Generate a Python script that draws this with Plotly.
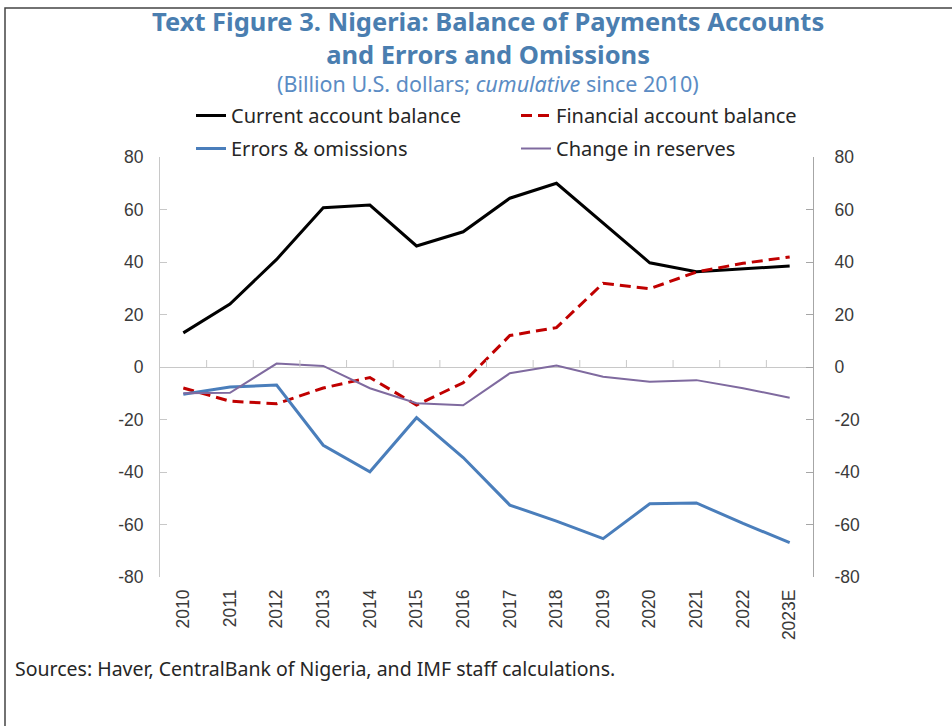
import plotly.graph_objects as go

# Cumulative balance of payments components since 2010 (billion U.S. dollars)
years = ["2010", "2011", "2012", "2013", "2014", "2015", "2016",
         "2017", "2018", "2019", "2020", "2021", "2022", "2023E"]
current_account = [13, 24, 41, 60.7, 61.7, 46.1, 51.5, 64.3, 70, 55, 39.7, 36.3, 37.5, 38.5]
financial_account = [-8, -13, -14, -8, -4, -14.5, -6, 12, 15, 31.9, 29.8, 36.2, 39.5, 41.9]
errors_omissions = [-10.4, -7.6, -6.9, -29.8, -39.9, -19.3, -34.5, -52.6, -58.7, -65.4, -52.1, -51.8, -59.6, -66.9]
change_in_reserves = [-10, -9.8, 1.3, 0.4, -8.1, -13.8, -14.6, -2.4, 0.6, -3.7, -5.6, -5, -8.1, -11.7]

y_ticks = [-80, -60, -40, -20, 0, 20, 40, 60, 80]

W, H = 952, 726
ML, MR, MT, MB = 160, 139, 157, 149
PW, PH = W - ML - MR, H - MT - MB


def px_x(p):
    return (p - ML) / PW


def px_y(p):
    return (H - MB - p) / PH


TEXT = "#262626"
TICK_FONT = dict(family="Liberation Sans, Arial, sans-serif", size=17.5, color="#3a3a3a")
LEG_FONT = dict(family="Noto Sans, sans-serif", size=20, color=TEXT)

fig = go.Figure()

# (name, values, line style, legend column, y axis)
series = [
    ("Current account balance", current_account, dict(color="#000000", width=3), "legend", "y"),
    ("Financial account balance", financial_account, dict(color="#C00000", width=3, dash="11px,6px"), "legend2", "y"),
    ("Errors & omissions", errors_omissions, dict(color="#4A7EBB", width=3), "legend", "y"),
    ("Change in reserves", change_in_reserves, dict(color="#7F6A9F", width=2), "legend2", "y2"),
]
for k, (name, vals, line, leg, yax) in enumerate(series):
    fig.add_trace(go.Scatter(
        x=years, y=vals, name=name, mode="lines", line=line, yaxis=yax,
        legend=leg, legendgroup=f"g{k}", hoverinfo="x+y+name",
    ))

# Small tick marks on the zero line, between categories
for i in range(len(years) - 1):
    fig.add_shape(
        type="line", xref="x", yref="y", x0=i + 0.5, x1=i + 0.5,
        ysizemode="pixel", yanchor=0, y0=0, y1=7,
        line=dict(color="#c8c8c8", width=1),
    )

# Outer frame
fig.add_shape(
    type="rect", xref="paper", yref="paper",
    x0=px_x(5), x1=px_x(970), y0=px_y(745), y1=px_y(8),
    line=dict(color="#444444", width=1.5), fillcolor="rgba(0,0,0,0)", layer="below",
)

title_font = dict(family="Noto Sans, sans-serif", size=25.5, color="#4A7EB0")
fig.add_annotation(
    text="<b>Text Figure 3. Nigeria: Balance of Payments Accounts</b><br>"
         "<b>and Errors and Omissions</b>",
    xref="paper", yref="paper", x=px_x(488), y=px_y(38),
    xanchor="center", yanchor="middle", align="center", showarrow=False, font=title_font,
)
fig.add_annotation(text="(Billion U.S. dollars; <i>cumulative</i> since 2010)",
                   xref="paper", yref="paper", x=px_x(488), y=px_y(84),
                   xanchor="center", yanchor="middle", showarrow=False,
                   font=dict(family="Noto Sans, sans-serif", size=21.5, color="#5B8CC4"))
fig.add_annotation(text="Sources: Haver, CentralBank of Nigeria, and IMF staff calculations.",
                   xref="paper", yref="paper", x=px_x(13), y=px_y(668),
                   xanchor="left", yanchor="middle", showarrow=False,
                   font=dict(family="Noto Sans, sans-serif", size=19.5, color=TEXT))

legend_common = dict(
    xref="container", yref="container", xanchor="left", yanchor="top",
    orientation="v", font=LEG_FONT, bgcolor="rgba(0,0,0,0)",
    tracegroupgap=4, itemclick=False, itemdoubleclick=False,
)

yaxis_common = dict(
    range=[-80, 80], tickvals=y_ticks, ticktext=[str(v) for v in y_ticks],
    showgrid=False, showline=True, ticks="inside", ticklen=7,
    tickfont=TICK_FONT, fixedrange=True,
)

fig.update_layout(
    width=W, height=H,
    margin=dict(l=ML, r=MR, t=MT, b=MB, autoexpand=False),
    paper_bgcolor="white", plot_bgcolor="white",
    showlegend=True,
    legend=dict(x=191 / W, y=1 - 96 / H, **legend_common),
    legend2=dict(x=516 / W, y=1 - 96 / H, **legend_common),
    xaxis=dict(
        type="category", categoryorder="array", categoryarray=years,
        range=[-0.5, len(years) - 0.5], showgrid=False, showline=False,
        zeroline=False, ticks="", tickangle=-90, tickfont=TICK_FONT,
        ticklabelstandoff=8, fixedrange=True,
    ),
    yaxis=dict(
        linecolor="#c8c8c8", tickcolor="#c8c8c8",
        zeroline=True, zerolinecolor="#c8c8c8", zerolinewidth=1,
        ticklabelstandoff=12, **yaxis_common,
    ),
    yaxis2=dict(
        overlaying="y", side="right", anchor="x",
        linecolor="#a6a6a6", tickcolor="#a6a6a6", zeroline=False,
        ticklabelstandoff=17, **yaxis_common,
    ),
)

fig.write_html("out.html")
